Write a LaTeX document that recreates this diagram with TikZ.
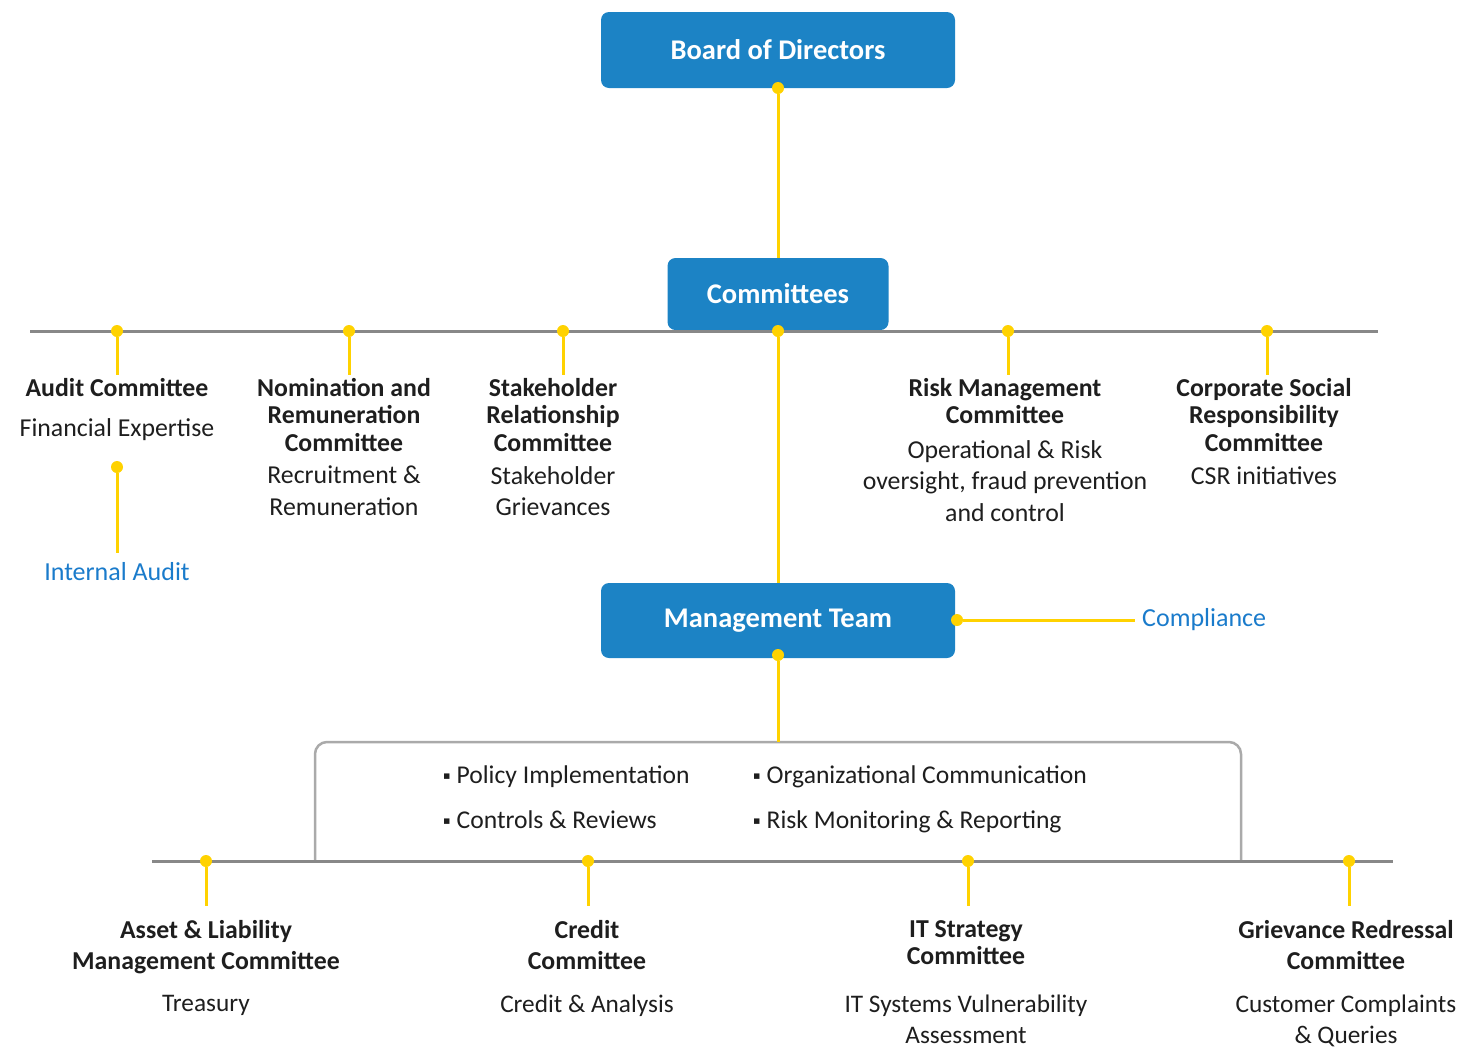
\documentclass[tikz,border=0pt]{standalone}
\usepackage{fontspec}
\setmainfont{Carlito}
\newfontfamily\symfont{DejaVu Sans}
\definecolor{boxblue}{HTML}{1C83C5}
\definecolor{yel}{HTML}{FFD200}
\definecolor{barg}{HTML}{888888}
\definecolor{frameg}{HTML}{AAAAAA}
\definecolor{txtdark}{HTML}{1E1E1E}
\definecolor{linkblue}{HTML}{1A7BCB}
\newcommand{\bulletsq}{\raisebox{3.5pt}{\symfont\fontsize{11}{11}\selectfont ▪}\hspace{6pt}}
\begin{document}
\begin{tikzpicture}[x=1pt,y=-1pt,
  mainbox/.style={fill=boxblue, rounded corners=8pt, text=white, font=\fontsize{28.5}{32}\selectfont\bfseries, inner sep=0pt},
  ttl/.style={font=\fontsize{25.8}{27.5}\selectfont\bfseries, text=txtdark, align=center, inner sep=0pt, anchor=north},
  btl/.style={font=\fontsize{25.8}{31.5}\selectfont\bfseries, text=txtdark, align=center, inner sep=0pt, anchor=north},
  dsc/.style={font=\fontsize{25.8}{31.5}\selectfont, text=txtdark, align=center, inner sep=0pt, anchor=north},
  bdsc/.style={font=\fontsize{25.3}{30.5}\selectfont, text=txtdark, align=center, inner sep=0pt, anchor=north},
  bluetxt/.style={font=\fontsize{26}{28}\selectfont, text=linkblue, inner sep=0pt},
  bul/.style={font=\fontsize{25.6}{28}\selectfont, text=txtdark, inner sep=0pt, anchor=base west},
  link/.style={draw=yel, line width=3pt},
  bar/.style={draw=barg, line width=3pt},
  framebox/.style={draw=frameg, line width=2.5pt, rounded corners=12pt},
  dot/.style={circle, fill=yel, inner sep=0pt, minimum size=12pt}
]
\useasboundingbox (0,0) rectangle (1473,1050);

% bars and frame
\coordinate (tbL) at (30,331);
\coordinate (tbR) at (1378,331);
\coordinate (bbL) at (152,861);
\coordinate (bbR) at (1393,861);
\coordinate (fBL) at (315,861);
\coordinate (fTL) at (315,742);
\coordinate (fTR) at (1241,742);
\coordinate (fBR) at (1241,861);
\coordinate (fTop) at (778,742);
\draw[framebox] (fBL) -- (fTL) -- (fTR) -- (fBR);

% main boxes
\node[mainbox, minimum width=354pt, minimum height=76pt] (board) at (778,50) {Board of Directors};
\node[mainbox, minimum width=221pt, minimum height=72pt] (comm) at (778,294) {Committees};
\node[mainbox, minimum width=354pt, minimum height=75pt] (mgmt) at (778,620.5) {Management Team};

\draw[bar] (tbL) -- (tbR);
\draw[bar] (bbL) -- (bbR);

% dots
\node[dot] (dBoard) at (778,88) {};
\node[dot] (dComm) at (778,331) {};
\node[dot] (dMgmtS) at (778,655) {};
\node[dot] (dMgmtE) at (957,620) {};
\node[dot] (dA) at (117,331) {};
\node[dot] (dA2) at (117,467) {};
\node[dot] (dN) at (349,331) {};
\node[dot] (dS) at (563,331) {};
\node[dot] (dR) at (1008,331) {};
\node[dot] (dC) at (1267,331) {};
\node[dot] (dB1) at (206,861) {};
\node[dot] (dB2) at (588,861) {};
\node[dot] (dB3) at (968,861) {};
\node[dot] (dB4) at (1349,861) {};

% upper committees
\node[ttl] (tA) at (117,378) {Audit Committee};
\node[dsc] (xA) at (117,418) {Financial Expertise};
\node[bluetxt] (ia) at (117,572) {Internal Audit};
\node[ttl] (tN) at (344,378) {Nomination and\\Remuneration\\Committee};
\node[dsc] (xN) at (344,466) {Recruitment \&\\Remuneration};
\node[ttl] (tS) at (553,378) {Stakeholder\\Relationship\\Committee};
\node[dsc] (xS) at (553,466) {Stakeholder\\Grievances};
\node[ttl] (tR) at (1005,378) {Risk Management\\Committee};
\node[dsc] (xR) at (1005,440) {Operational \& Risk\\oversight, fraud prevention\\and control};
\node[ttl] (tC) at (1264,378) {Corporate Social\\Responsibility\\Committee};
\node[dsc] (xC) at (1264,466) {CSR initiatives};

% compliance
\node[bluetxt, anchor=west] (comp) at (1142,620) {Compliance};

% bullet list
\node[bul] (p1) at (443,783) {\bulletsq Policy Implementation};
\node[bul] (p2) at (443,828) {\bulletsq Controls \& Reviews};
\node[bul] (p3) at (753,783) {\bulletsq Organizational Communication};
\node[bul] (p4) at (753,828) {\bulletsq Risk Monitoring \& Reporting};

% lower committees
\node[btl] (b1) at (206,920) {Asset \& Liability\\Management Committee};
\node[bdsc] (y1) at (206,995) {Treasury};
\node[btl] (b2) at (587,920) {Credit\\Committee};
\node[bdsc] (y2) at (587,995) {Credit \& Analysis};
\node[ttl] (b3) at (966,920) {IT Strategy\\Committee};
\node[bdsc] (y3) at (966,995) {IT Systems Vulnerability\\Assessment};
\node[btl] (b4) at (1346,920) {Grievance Redressal\\Committee};
\node[bdsc] (y4) at (1346,995) {Customer Complaints\\\& Queries};

% connectors
\draw[link] (dBoard) -- (dBoard |- comm.north);
\draw[link] (dComm) -- (dComm |- mgmt.north);
\draw[link] (dMgmtS) -- (fTop);
\draw[link, shorten >=7pt] (dMgmtE) -- (dMgmtE -| comp.west);
\draw[link, shorten >=3pt] (dA) -- (dA |- tA.north);
\draw[link, shorten >=10pt] (dA2) -- (ia.north);
\draw[link, shorten >=3pt] (dN) -- (dN |- tN.north);
\draw[link, shorten >=3pt] (dS) -- (dS |- tS.north);
\draw[link, shorten >=3pt] (dR) -- (dR |- tR.north);
\draw[link, shorten >=3pt] (dC) -- (dC |- tC.north);
\draw[link, shorten >=14pt] (dB1) -- (dB1 |- b1.north);
\draw[link, shorten >=14pt] (dB2) -- (dB2 |- b2.north);
\draw[link, shorten >=14pt] (dB3) -- (dB3 |- b3.north);
\draw[link, shorten >=14pt] (dB4) -- (dB4 |- b4.north);
\end{tikzpicture}
\end{document}
